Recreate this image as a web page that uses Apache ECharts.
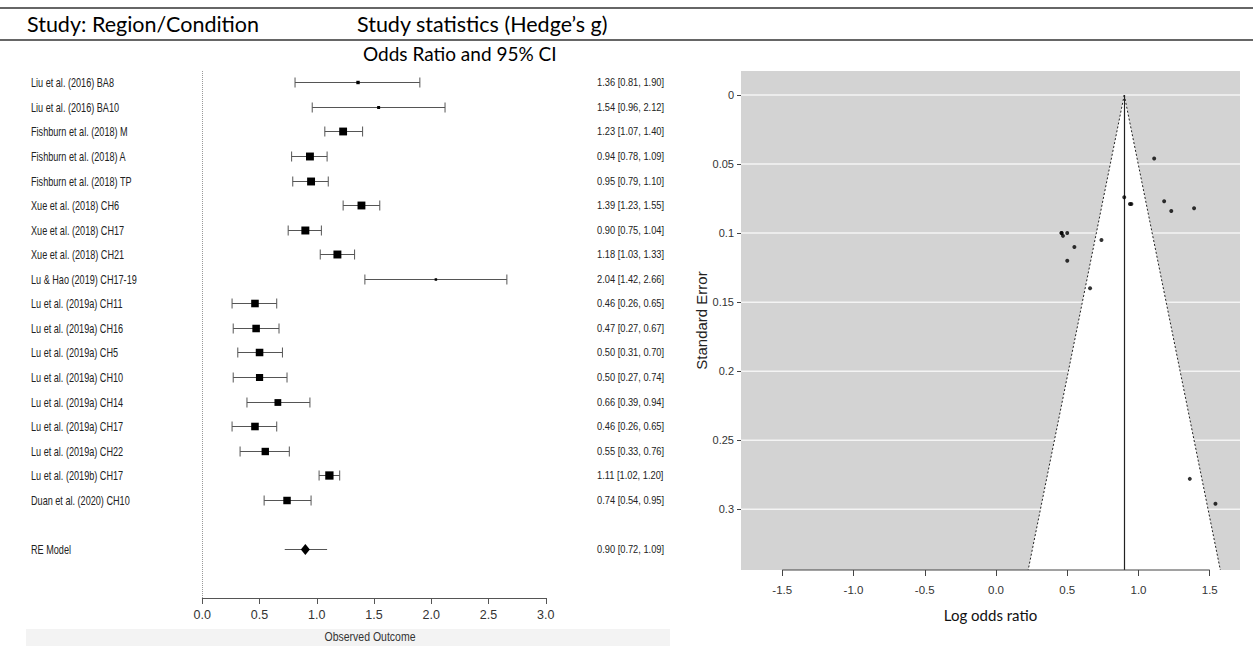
<!DOCTYPE html>
<html><head><meta charset="utf-8">
<script src="https://cdn.jsdelivr.net/npm/echarts@6/dist/echarts.min.js"></script>
<style>html,body{margin:0;padding:0;background:#fff}#c{width:1253px;height:646px}</style>
</head><body><div id="c"></div>
<script>
// ---------- data ----------
const studies = [
  'Liu et al. (2016) BA8', 'Liu et al. (2016) BA10', 'Fishburn et al. (2018) M',
  'Fishburn et al. (2018) A', 'Fishburn et al. (2018) TP', 'Xue et al. (2018) CH6',
  'Xue et al. (2018) CH17', 'Xue et al. (2018) CH21', 'Lu & Hao (2019) CH17-19',
  'Lu et al. (2019a) CH11', 'Lu et al. (2019a) CH16', 'Lu et al. (2019a) CH5',
  'Lu et al. (2019a) CH10', 'Lu et al. (2019a) CH14', 'Lu et al. (2019a) CH17',
  'Lu et al. (2019a) CH22', 'Lu et al. (2019b) CH17', 'Duan et al. (2020) CH10'
];
const estimates = [1.36, 1.54, 1.23, 0.94, 0.95, 1.39, 0.90, 1.18, 2.04, 0.46, 0.47, 0.50, 0.50, 0.66, 0.46, 0.55, 1.11, 0.74];
const ciLower   = [0.81, 0.96, 1.07, 0.78, 0.79, 1.23, 0.75, 1.03, 1.42, 0.26, 0.27, 0.31, 0.27, 0.39, 0.26, 0.33, 1.02, 0.54];
const ciUpper   = [1.90, 2.12, 1.40, 1.09, 1.10, 1.55, 1.04, 1.33, 2.66, 0.65, 0.67, 0.70, 0.74, 0.94, 0.65, 0.76, 1.20, 0.95];
const weights   = [4.12, 3.94, 5.96, 5.99, 5.99, 5.97, 6.01, 6.00, 3.74, 5.85, 5.83, 5.85, 5.69, 5.52, 5.85, 5.77, 6.15, 5.81];
const standardErrors = [0.278, 0.296, 0.084, 0.079, 0.079, 0.082, 0.074, 0.077, 0.316, 0.100, 0.102, 0.100, 0.120, 0.140, 0.100, 0.110, 0.046, 0.105];
const reLabel = 'RE Model';
const reEstimate = 0.90, reLower = 0.72, reUpper = 1.09;
const forestTicks = [0, 0.5, 1.0, 1.5, 2.0, 2.5, 3.0];
const funnelXTicks = [-1.5, -1.0, -0.5, 0.0, 0.5, 1.0, 1.5];
const funnelYTicks = [0, 0.05, 0.1, 0.15, 0.2, 0.25, 0.3];
const funnelSeMax = 0.344;
const funnelZ = 1.96;

// ---------- styling ----------
const SANS = "'Liberation Sans', Arial, sans-serif";
const HEAD = "Lato, 'Open Sans', sans-serif";
const TXT = '#222';
const fmt2 = v => v.toFixed(2);
const wMin = Math.min(...weights), wMax = Math.max(...weights);
const sizeOf = w => 2.5 + (w - wMin) / (wMax - wMin) * 5.8;
const reRow = studies.length + 1;
const LABEL_SCALE = 0.76, NUM_SCALE = 0.86;

const chart = echarts.init(document.getElementById('c'), null, {renderer: 'svg'});

const forestData = estimates.map((e, i) => [i, e, ciLower[i], ciUpper[i], weights[i]]);

function rowTexts(y, label, nums) {
  return [
    {type: 'text', x: 31, y: y, scaleX: LABEL_SCALE, style: {x: 0, y: 0, text: label, font: '12px ' + SANS, fill: TXT, verticalAlign: 'middle'}},
    {type: 'text', x: 597, y: y, scaleX: NUM_SCALE, style: {x: 0, y: 0, text: nums, font: '10.8px ' + SANS, fill: TXT, verticalAlign: 'middle'}}
  ];
}

const option = {
  animation: false,
  backgroundColor: '#fff',
  grid: [
    {left: 202.3, top: 71, width: 343.5, height: 527, show: false},
    {left: 741, top: 71, width: 499, height: 499, show: true, backgroundColor: '#d3d3d3', borderWidth: 0}
  ],
  xAxis: [
    {
      gridIndex: 0, type: 'value', min: 0, max: 3, interval: 0.5,
      axisLine: {show: true, onZero: false, lineStyle: {color: '#555', width: 1}},
      axisTick: {show: true, length: 6, inside: false, lineStyle: {color: '#555'}},
      axisLabel: {margin: 10, fontFamily: SANS, fontSize: 12.5, color: '#333', formatter: v => v.toFixed(1)},
      splitLine: {show: false}
    },
    {
      gridIndex: 1, type: 'value', min: -1.7895, max: 1.7123,
      axisLine: {show: false, onZero: false},
      axisTick: {show: true, length: 6, customValues: funnelXTicks, lineStyle: {color: '#444'}},
      axisLabel: {margin: 14, customValues: funnelXTicks, fontFamily: SANS, fontSize: 11.5, color: '#333', formatter: v => v.toFixed(1)},
      splitLine: {show: false},
      name: 'Log odds ratio', nameLocation: 'middle', nameGap: 37,
      nameTextStyle: {fontFamily: HEAD, fontSize: 15, color: '#111'}
    }
  ],
  yAxis: [
    {gridIndex: 0, type: 'value', inverse: true, min: -0.46, max: 21, show: false, axisLine: {onZero: false}},
    {
      gridIndex: 1, type: 'value', inverse: true, min: -0.0174, max: funnelSeMax,
      axisLine: {show: false, onZero: false},
      axisTick: {show: true, length: 4, customValues: funnelYTicks, lineStyle: {color: '#444'}},
      axisLabel: {margin: 7, customValues: funnelYTicks, fontFamily: SANS, fontSize: 11, color: '#333',
        formatter: v => String(parseFloat(v.toFixed(2)))},
      splitLine: {show: false},
      name: 'Standard Error', nameLocation: 'middle', nameRotate: 90, nameGap: 23,
      nameTextStyle: {fontFamily: SANS, fontSize: 15, color: '#222'}
    }
  ],
  graphic: [
    {type: 'rect', z: -10, shape: {x: 26, y: 629, width: 644, height: 17}, style: {fill: '#f3f3f3'}},
    {type: 'line', shape: {x1: 0, y1: 8, x2: 1253, y2: 8}, style: {stroke: '#333', lineWidth: 1.5}},
    {type: 'line', shape: {x1: 0, y1: 40, x2: 1253, y2: 40}, style: {stroke: '#333', lineWidth: 1.5}},
    {type: 'text', x: 27, y: 24, style: {text: 'Study: Region/Condition', font: '21.5px ' + HEAD, fill: '#000', verticalAlign: 'middle'}},
    {type: 'text', x: 357, y: 24, style: {text: 'Study statistics (Hedge’s g)', font: '21.5px ' + HEAD, fill: '#000', verticalAlign: 'middle'}},
    {type: 'text', x: 363, y: 53, style: {text: 'Odds Ratio and 95% CI', font: '19px ' + HEAD, fill: '#000', verticalAlign: 'middle'}},
    {type: 'text', x: 370, y: 637, scaleX: 0.84, style: {x: 0, y: 0, text: 'Observed Outcome', font: '12.5px ' + SANS, fill: '#333', align: 'center', verticalAlign: 'middle'}}
  ],
  series: [
    // forest plot study rows
    {
      type: 'custom', xAxisIndex: 0, yAxisIndex: 0, data: forestData,
      encode: {x: [1, 2, 3], y: 0},
      renderItem(params, api) {
        const row = api.value(0);
        const pe = api.coord([api.value(1), row]);
        const pl = api.coord([api.value(2), row]);
        const pu = api.coord([api.value(3), row]);
        const s = sizeOf(api.value(4));
        const y = Math.round(pe[1]) + 0.5;
        const ls = {stroke: '#555', lineWidth: 1};
        const cap = 5;
        return {type: 'group', children: [
          {type: 'line', shape: {x1: pl[0], y1: y, x2: pu[0], y2: y}, style: ls},
          {type: 'line', shape: {x1: pl[0], y1: y - cap, x2: pl[0], y2: y + cap}, style: ls},
          {type: 'line', shape: {x1: pu[0], y1: y - cap, x2: pu[0], y2: y + cap}, style: ls},
          {type: 'rect', shape: {x: pe[0] - s / 2, y: y - s / 2, width: s, height: s}, style: {fill: '#000'}}
        ].concat(rowTexts(y, studies[params.dataIndex],
          fmt2(api.value(1)) + ' [' + fmt2(api.value(2)) + ', ' + fmt2(api.value(3)) + ']'))};
      },
      markLine: {
        silent: true, symbol: 'none', label: {show: false},
        lineStyle: {type: 'dotted', color: '#999', width: 1},
        data: [{xAxis: 0}]
      }
    },
    // RE model row
    {
      type: 'custom', xAxisIndex: 0, yAxisIndex: 0, data: [[reRow, reEstimate, reLower, reUpper]],
      encode: {x: [1, 2, 3], y: 0},
      renderItem(params, api) {
        const row = api.value(0);
        const pe = api.coord([api.value(1), row]);
        const pl = api.coord([api.value(2), row]);
        const pu = api.coord([api.value(3), row]);
        const y = Math.round(pe[1]) + 0.5;
        return {type: 'group', children: [
          {type: 'line', shape: {x1: pl[0], y1: y, x2: pu[0], y2: y}, style: {stroke: '#555', lineWidth: 1}},
          {type: 'polygon', shape: {points: [[pe[0] - 4.5, y], [pe[0], y - 5.5], [pe[0] + 4.5, y], [pe[0], y + 5.5]]}, style: {fill: '#000'}}
        ].concat(rowTexts(y, reLabel,
          fmt2(api.value(1)) + ' [' + fmt2(api.value(2)) + ', ' + fmt2(api.value(3)) + ']'))};
      }
    },
    // funnel gridlines
    {
      type: 'custom', xAxisIndex: 1, yAxisIndex: 1, data: funnelYTicks.map(v => [0, v]),
      encode: {x: 0, y: 1}, z: 1,
      renderItem(params, api) {
        const cs = params.coordSys;
        const p = api.coord([0, api.value(1)]);
        return {type: 'line', shape: {x1: cs.x, y1: p[1], x2: cs.x + cs.width, y2: p[1]}, style: {stroke: '#f4f4f4', lineWidth: 1.5}};
      }
    },
    // funnel triangle and reference line
    {
      type: 'custom', xAxisIndex: 1, yAxisIndex: 1, data: [[reEstimate, funnelSeMax]],
      encode: {x: 0, y: 1}, z: 2,
      renderItem(params, api) {
        const est = api.value(0), se = api.value(1);
        const top = api.coord([est, 0]);
        const bl = api.coord([est - funnelZ * se, se]);
        const br = api.coord([est + funnelZ * se, se]);
        const bot = api.coord([est, se]);
        const dl = {stroke: '#222', lineWidth: 1, lineDash: [2, 2]};
        return {type: 'group', children: [
          {type: 'polygon', shape: {points: [top, bl, br]}, style: {fill: '#fff'}},
          {type: 'line', shape: {x1: top[0], y1: top[1], x2: bl[0], y2: bl[1]}, style: dl},
          {type: 'line', shape: {x1: top[0], y1: top[1], x2: br[0], y2: br[1]}, style: dl},
          {type: 'line', shape: {x1: Math.round(top[0]) + 0.5, y1: top[1], x2: Math.round(top[0]) + 0.5, y2: bot[1]}, style: {stroke: '#222', lineWidth: 1.2}}
        ]};
      }
    },
    // funnel x axis line (from first to last tick)
    {
      type: 'custom', xAxisIndex: 1, yAxisIndex: 1,
      data: [[funnelXTicks[0], funnelXTicks[funnelXTicks.length - 1], funnelSeMax]],
      encode: {x: [0, 1], y: 2}, z: 3,
      renderItem(params, api) {
        const a = api.coord([api.value(0), api.value(2)]);
        const b = api.coord([api.value(1), api.value(2)]);
        return {type: 'line', shape: {x1: a[0], y1: a[1], x2: b[0], y2: b[1]}, style: {stroke: '#444', lineWidth: 1}};
      }
    },
    // funnel points
    {
      type: 'scatter', xAxisIndex: 1, yAxisIndex: 1, z: 4, clip: true,
      symbol: 'circle', symbolSize: 4, itemStyle: {color: '#000'},
      data: estimates.map((e, i) => [e, standardErrors[i]])
    }
  ]
};
chart.setOption(option);
</script>
</body></html>
